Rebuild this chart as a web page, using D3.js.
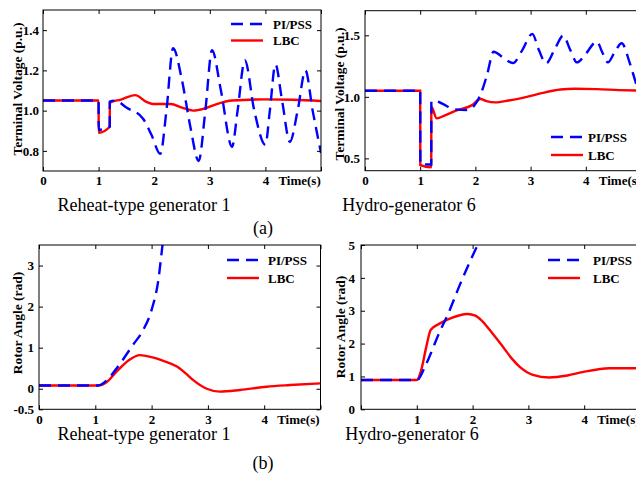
<!DOCTYPE html>
<html>
<head>
<meta charset="utf-8">
<script src="https://cdn.jsdelivr.net/npm/d3@7"></script>
<style>
  body { margin: 0; background: #fff; }
  svg { display: block; }
  text { font-family: "Liberation Serif", "Times New Roman", serif; }
</style>
</head>
<body>
<svg id="chart" width="636" height="481"></svg>
<script>
// ---------- DATA ----------
// Panel (a) left: Terminal voltage, reheat-type generator 1
const vGen1PssT = [0, 1.0, 1.002, 1.2, 1.202, 1.3, 1.5, 1.8, 1.95, 2.11, 2.22, 2.34, 2.5, 2.65, 2.8, 2.92, 3.04, 3.2, 3.4, 3.5, 3.63, 3.8, 4.0, 4.08, 4.18, 4.3, 4.44, 4.58, 4.72, 4.85, 5.0];
const vGen1PssV = [1.05, 1.05, 0.905, 0.92, 1.045, 1.05, 1.015, 0.96, 0.88, 0.785, 1.0, 1.31, 1.15, 0.92, 0.75, 1.0, 1.30, 1.1, 0.82, 1.0, 1.25, 1.0, 0.83, 1.0, 1.23, 1.05, 0.845, 1.0, 1.2, 1.0, 0.79];
const vGen1LbcT = [0, 1.0, 1.002, 1.2, 1.202, 1.4, 1.66, 1.85, 1.98, 2.3, 2.5, 2.7, 2.9, 3.1, 3.4, 4.0, 4.5, 5.0];
const vGen1LbcV = [1.05, 1.05, 0.89, 0.92, 1.04, 1.055, 1.077, 1.045, 1.033, 1.033, 1.015, 1.0, 1.01, 1.03, 1.05, 1.056, 1.054, 1.048];

// Panel (a) right: Terminal voltage, hydro-generator 6
const vGen6PssT = [0, 1.0, 1.002, 1.2, 1.202, 1.27, 1.39, 1.63, 1.85, 1.98, 2.09, 2.21, 2.33, 2.5, 2.68, 2.85, 3.03, 3.15, 3.28, 3.45, 3.59, 3.72, 3.84, 4.0, 4.2, 4.3, 4.4, 4.52, 4.65, 4.8, 4.92, 5.0];
const vGen6PssV = [1.05, 1.05, 0.455, 0.45, 0.96, 0.968, 0.947, 0.898, 0.893, 0.93, 1.015, 1.177, 1.367, 1.32, 1.275, 1.38, 1.512, 1.38, 1.272, 1.4, 1.497, 1.38, 1.28, 1.35, 1.45, 1.36, 1.28, 1.36, 1.435, 1.27, 1.096, 1.0];
const vGen6LbcT = [0, 1.0, 1.002, 1.2, 1.202, 1.3, 1.45, 1.66, 1.94, 2.09, 2.2, 2.36, 2.6, 2.93, 3.2, 3.54, 3.8, 4.2, 4.6, 5.0];
const vGen6LbcV = [1.05, 1.05, 0.445, 0.427, 0.92, 0.825, 0.85, 0.89, 0.933, 0.982, 0.965, 0.955, 0.97, 1.0, 1.03, 1.06, 1.066, 1.063, 1.055, 1.05];

// Panel (b) left: Rotor angle, reheat-type generator 1
const aGen1PssT = [0, 1.05, 1.2, 1.38, 1.67, 1.85, 2.0, 2.12, 2.19, 2.25];
const aGen1PssV = [0.08, 0.08, 0.2, 0.5, 1.07, 1.43, 1.92, 2.65, 3.46, 4.2];
const aGen1LbcT = [0, 1.05, 1.2, 1.38, 1.6, 1.79, 2.0, 2.21, 2.45, 2.6, 2.74, 2.98, 3.21, 3.57, 4.04, 4.46, 5.0];
const aGen1LbcV = [0.08, 0.08, 0.16, 0.42, 0.7, 0.82, 0.77, 0.68, 0.54, 0.38, 0.21, 0.0, -0.07, -0.03, 0.05, 0.09, 0.13];

// Panel (b) right: Rotor angle, hydro-generator 6
const aGen6PssT = [0, 1.0, 1.16, 1.4, 1.58, 1.76, 1.94, 2.09, 2.2];
const aGen6PssV = [0.89, 0.89, 1.35, 2.32, 2.98, 3.74, 4.45, 5.0, 5.4];
const aGen6LbcT = [0, 1.0, 1.08, 1.17, 1.25, 1.4, 1.58, 1.91, 2.05, 2.18, 2.35, 2.54, 2.7, 2.84, 3.08, 3.37, 3.7, 3.97, 4.45, 5.0];
const aGen6LbcV = [0.89, 0.89, 1.2, 1.9, 2.42, 2.6, 2.75, 2.9, 2.85, 2.67, 2.32, 1.91, 1.55, 1.3, 1.05, 0.97, 1.03, 1.13, 1.25, 1.25];

// Tick values / labels
const xTicksAll = [0, 1, 2, 3, 4, 5];
const xLabels1 = [0, 1, 2, 3, 4];
const xLabels4 = [1, 2, 3, 4];
const yTicksV1 = [0.8, 1.0, 1.2, 1.4];
const yTicksV6 = [0.5, 1.0, 1.5];
const yTicksA1 = [-0.5, 0, 1, 2, 3];
const yTicksA6 = [0, 1, 2, 3, 4, 5];

const seriesNames = ["PI/PSS", "LBC"];
const subtitles = ["Reheat-type generator 1", "Hydro-generator 6"];
const groupLabels = ["(a)", "(b)"];

// ---------- DRAWING ----------
const svg = d3.select("#chart");
svg.append("rect").attr("width", 636).attr("height", 481).attr("fill", "#fff");

const BLUE = "#0000ff", RED = "#ff0000";

function zip(t, v) { return t.map((d, i) => [d, v[i]]); }

let clipId = 0;
function panel(cfg) {
  const { x0, x1, y0, y1, yDomain, yTicks, yFmt, xLabels, yTitle, pss, lbc, legend, ypad } = cfg;
  const x = d3.scaleLinear().domain([0, 5]).range([x0, x1]);
  const y = d3.scaleLinear().domain(yDomain).range([y1, y0]);
  const g = svg.append("g");
  const id = "clip" + (clipId++);
  svg.append("clipPath").attr("id", id).append("rect")
    .attr("x", x0).attr("y", y0).attr("width", x1 - x0).attr("height", y1 - y0);

  const line = d3.line().x(d => x(d[0])).y(d => y(d[1])).curve(d3.curveMonotoneX);
  const plot = g.append("g").attr("clip-path", `url(#${id})`);
  plot.append("path").datum(lbc).attr("d", line)
    .attr("fill", "none").attr("stroke", RED).attr("stroke-width", 2.4);
  plot.append("path").datum(pss).attr("d", line)
    .attr("fill", "none").attr("stroke", BLUE).attr("stroke-width", 2.4)
    .attr("stroke-dasharray", "12,7");

  // axes
  const fmtX = d => xLabels.includes(d) ? String(d) : "";
  const bottom = g.append("g").attr("transform", `translate(0,${y1})`)
    .call(d3.axisBottom(x).tickValues(xTicksAll).tickSize(-4).tickPadding(5).tickFormat(fmtX));
  const top = g.append("g").attr("transform", `translate(0,${y0})`)
    .call(d3.axisTop(x).tickValues(xTicksAll).tickSize(-4).tickFormat(""));
  const left = g.append("g").attr("transform", `translate(${x0},0)`)
    .call(d3.axisLeft(y).tickValues(yTicks).tickSize(-4).tickPadding(ypad).tickFormat(yFmt));
  const right = g.append("g").attr("transform", `translate(${x1},0)`)
    .call(d3.axisRight(y).tickValues(yTicks).tickSize(-4).tickFormat(""));
  [bottom, top, left, right].forEach(a => {
    a.select(".domain").remove();
    a.selectAll("line").attr("stroke", "#000").attr("stroke-width", 1);
    a.selectAll("text").attr("font-family", "Liberation Serif, serif")
      .attr("font-size", 13).attr("font-weight", "bold").attr("fill", "#000");
  });
  g.append("rect").attr("x", x0).attr("y", y0).attr("width", x1 - x0).attr("height", y1 - y0)
    .attr("fill", "none").attr("stroke", "#000").attr("stroke-width", 1);

  // Time(s)
  g.append("text").attr("x", x(4) + 13).attr("y", y1 + 5).attr("dy", "0.71em")
    .attr("font-size", 13).attr("font-weight", "bold").text("Time(s)");

  // y title
  g.append("text")
    .attr("transform", `translate(${cfg.titleX},${cfg.titleY}) rotate(-90)`)
    .attr("text-anchor", "middle").attr("dy", "0.35em")
    .attr("font-size", 13.5).attr("font-weight", "bold").text(yTitle);

  // legend
  const lg = g.append("g");
  [[BLUE, "12,7"], [RED, null]].forEach((s, i) => {
    const ly = legend.y + i * legend.dy;
    const ln = lg.append("line").attr("x1", legend.x).attr("x2", legend.x + 32)
      .attr("y1", ly).attr("y2", ly).attr("stroke", s[0]).attr("stroke-width", 2.4);
    if (s[1]) ln.attr("stroke-dasharray", s[1]);
    lg.append("text").attr("x", legend.tx).attr("y", ly).attr("dy", "0.35em")
      .attr("font-size", 13).attr("font-weight", "bold").text(seriesNames[i]);
  });
}

const f1 = d3.format(".1f");
const fA = d => (d === -0.5 ? "-0.5" : String(d));

panel({ x0: 43, x1: 321, y0: 10, y1: 171, yDomain: [0.7, 1.5], yTicks: yTicksV1, yFmt: f1, ypad: 4,
  xLabels: xLabels1, yTitle: "Terminal Voltage (p.u.)", titleX: 17, titleY: 89,
  pss: zip(vGen1PssT, vGen1PssV), lbc: zip(vGen1LbcT, vGen1LbcV),
  legend: { x: 231, y: 24, dy: 16.5, tx: 273 } });

panel({ x0: 365, x1: 641, y0: 10.7, y1: 170.7, yDomain: [0.4, 1.7], yTicks: yTicksV6, yFmt: f1, ypad: 5,
  xLabels: xLabels1, yTitle: "Terminal Voltage (p.u.)", titleX: 339, titleY: 94,
  pss: zip(vGen6PssT, vGen6PssV), lbc: zip(vGen6LbcT, vGen6LbcV),
  legend: { x: 551, y: 137, dy: 18, tx: 588 } });

panel({ x0: 39, x1: 320.5, y0: 245, y1: 409.3, yDomain: [-0.5, 3.5], yTicks: yTicksA1, yFmt: fA, ypad: 5,
  xLabels: xLabels1, yTitle: "Rotor Angle (rad)", titleX: 17, titleY: 323,
  pss: zip(aGen1PssT, aGen1PssV), lbc: zip(aGen1LbcT, aGen1LbcV),
  legend: { x: 227, y: 260, dy: 18, tx: 268 } });

panel({ x0: 361, x1: 640, y0: 245, y1: 409.3, yDomain: [0, 5], yTicks: yTicksA6, yFmt: d => String(d), ypad: 6,
  xLabels: xLabels4, yTitle: "Rotor Angle (rad)", titleX: 340, titleY: 327,
  pss: zip(aGen6PssT, aGen6PssV), lbc: zip(aGen6LbcT, aGen6LbcV),
  legend: { x: 548, y: 260, dy: 18, tx: 593 } });

// subtitles
[[144, 211, subtitles[0]], [409, 211, subtitles[1]], [144, 440, subtitles[0]], [412, 440, subtitles[1]]]
  .forEach(s => svg.append("text").attr("x", s[0]).attr("y", s[1]).attr("text-anchor", "middle")
    .attr("font-size", 18).text(s[2]));
[[263, 234, groupLabels[0]], [263, 469, groupLabels[1]]]
  .forEach(s => svg.append("text").attr("x", s[0]).attr("y", s[1]).attr("text-anchor", "middle")
    .attr("font-size", 18).text(s[2]));
</script>
</body>
</html>
